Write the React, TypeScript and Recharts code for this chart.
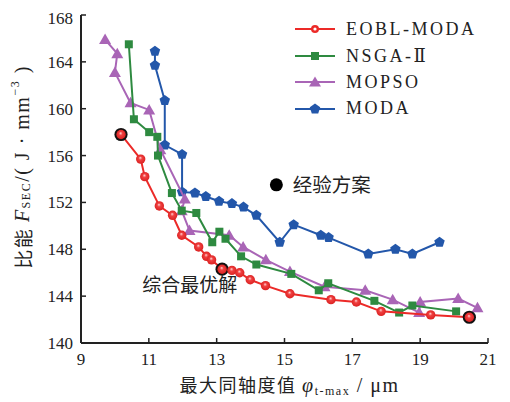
import React from 'react';
import { ScatterChart, Scatter, XAxis, YAxis, Legend, ReferenceDot } from 'recharts';

// [最大同轴度值, 比能]
const eoblModa = [
    [10.18, 157.8], [10.76, 155.7], [10.88, 154.2], [11.31, 151.7], [11.70, 150.9],
    [11.97, 149.2], [12.47, 148.2], [12.70, 147.4], [12.85, 147.1], [13.16, 146.3],
    [13.45, 146.2], [13.68, 146.0], [13.99, 145.4], [14.44, 144.9], [15.16, 144.2],
    [16.37, 143.7], [17.12, 143.5], [17.85, 142.7], [19.31, 142.4], [20.45, 142.2],
];
const bestIdx = [0, 9, 19];

const nsga2 = [
    [10.41, 165.5], [10.56, 159.1], [11.01, 158.0], [11.25, 157.6], [11.27, 156.0],
    [11.68, 152.8], [11.97, 151.3], [12.40, 151.1], [12.87, 148.6], [13.08, 149.5],
    [13.26, 148.9], [13.72, 147.4], [14.17, 146.7], [15.20, 145.9], [16.01, 144.5],
    [16.29, 145.1], [17.65, 143.6], [18.38, 142.6], [18.77, 143.2], [20.06, 142.7],
];

const mopso = [
    [9.71, 165.9], [10.07, 164.7], [10.00, 163.1], [10.46, 160.5], [11.01, 159.9],
    [11.34, 156.5], [12.06, 152.3], [11.97, 151.3], [12.20, 149.6], [13.37, 149.2],
    [13.78, 148.2], [14.45, 147.1], [15.16, 146.1], [16.18, 144.8], [17.38, 144.5],
    [18.19, 143.7], [18.97, 142.6], [19.00, 143.5], [20.12, 143.8], [20.69, 143.0],
];

const moda = [
    [11.18, 164.9], [11.18, 163.7], [11.47, 160.7], [11.47, 156.9], [11.98, 156.1],
    [11.98, 152.9], [12.36, 152.8], [12.68, 152.5], [13.07, 152.1], [13.45, 151.9],
    [13.79, 151.6], [14.17, 150.9], [14.86, 148.6], [15.27, 150.1], [16.07, 149.2],
    [16.30, 149.0], [17.47, 147.6], [18.27, 148.0], [18.77, 147.6], [19.57, 148.6],
];

const expertPlan = { x: 14.76, y: 153.5, text: '经验方案' };
const bestNote = { x: 12.21, y: 144.95, text: '综合最优解' };

const xTicks = [9, 11, 13, 15, 17, 19, 21];
const yTicks = [140, 144, 148, 152, 156, 160, 164, 168];

const RED = '#ec2a28';
const GREEN = '#2e8a40';
const PURPLE = '#a965b6';
const BLUE = '#2357aa';
const AXIS = '#222';
const SERIF = '"Liberation Serif", "DejaVu Serif", serif';
const CJK = '"Noto Sans CJK SC", sans-serif';

const toRows = (pts: number[][], best: number[] = []) =>
    pts.map((p, i) => ({ x: p[0], y: p[1], best: best.includes(i) }));

const Ball = (p: any) => {
    const { cx, cy, payload } = p;
    return <g>
        <defs>
            <radialGradient id="redBall" cx="50%" cy="50%" r="55%" fx="45%" fy="35%">
                <stop offset="0%" stopColor="#ffd6d6" />
                <stop offset="35%" stopColor="#f04040" />
                <stop offset="100%" stopColor="#d81e1e" />
            </radialGradient>
        </defs>
        {payload.best && <circle cx={cx} cy={cy} r={6.6} fill="#111" />}
        <circle cx={cx} cy={cy} r={4.7} fill="url(#redBall)" />
    </g>;
};

const Square = (p: any) => <rect x={p.cx - 4} y={p.cy - 4} width={8} height={8} fill={GREEN} />;

const Tri = (p: any) => <polygon
    points={`${p.cx},${p.cy - 6} ${p.cx - 6},${p.cy + 4.5} ${p.cx + 6},${p.cy + 4.5}`} fill={PURPLE} />;

const pentPoints = (cx: number, cy: number, r: number) =>
    [0, 1, 2, 3, 4].map(k => {
        const a = -Math.PI / 2 + k * 2 * Math.PI / 5;
        return `${cx + r * Math.cos(a)},${cy + r * Math.sin(a)}`;
    }).join(' ');

const Pent = (p: any) => <polygon points={pentPoints(p.cx, p.cy, 5.5)} fill={BLUE} />;

const series = [
    { name: 'EOBL-MODA', color: RED, kind: 'ball' },
    { name: 'NSGA-Ⅱ', color: GREEN, kind: 'square' },
    { name: 'MOPSO', color: PURPLE, kind: 'tri' },
    { name: 'MODA', color: BLUE, kind: 'pent' },
];

const legendMarker = (kind: string) => {
    if (kind === 'ball') return <g><circle cx={20} cy={8} r={4} fill={RED} /><circle cx={20} cy={8} r={1.6} fill="#fff" /></g>;
    if (kind === 'square') return <rect x={16} y={4} width={8} height={8} fill={GREEN} />;
    if (kind === 'tri') return <polygon points="20,2.5 14,12.5 26,12.5" fill={PURPLE} />;
    return <polygon points={pentPoints(20, 8, 5.5)} fill={BLUE} />;
};

const LegendBox = () => <div style={{ fontFamily: SERIF, fontSize: 18, color: '#222' }}>
    {series.map(s => <div key={s.name} style={{ display: 'flex', alignItems: 'center', height: 26.5 }}>
        <svg width={40} height={16}>
            <line x1={0} y1={8} x2={40} y2={8} stroke={s.color} strokeWidth={2} />
            {legendMarker(s.kind)}
        </svg>
        <span style={{ marginLeft: 11, letterSpacing: 2.5 }}>{s.name}</span>
    </div>)}
</div>;

const YTitle = (props: any) => {
    const { viewBox } = props;
    const x = viewBox.x - 9;
    const y = viewBox.y + viewBox.height / 2 - 12;
    return <text x={x} y={y} transform={`rotate(-90, ${x}, ${y})`} textAnchor="middle"
        dominantBaseline="central" fill="#222" fontSize={20} fontFamily={SERIF} letterSpacing={1.5}>
        <tspan fontFamily={CJK} fontSize={19}>比能 </tspan>
        <tspan fontStyle="italic">F</tspan>
        <tspan fontSize={12} dy={4}>SEC</tspan>
        <tspan dy={-4}>/( J · mm</tspan>
        <tspan fontSize={12} dy={-7}>−3</tspan>
        <tspan dy={7}> )</tspan>
    </text>;
};

const XTitle = (props: any) => {
    const { viewBox } = props;
    const x = viewBox.x + viewBox.width / 2 + 5;
    const y = viewBox.y + 49;
    return <text x={x} y={y} textAnchor="middle" fill="#222" fontSize={20} fontFamily={SERIF} letterSpacing={1.5}>
        <tspan fontFamily={CJK} fontSize={18}>最大同轴度值 </tspan>
        <tspan fontStyle="italic">φ</tspan>
        <tspan fontSize={12} dy={3}>t-max</tspan>
        <tspan dy={-3}> / μm</tspan>
    </text>;
};

export default function App() {
    return <ScatterChart width={500} height={392} margin={{ top: 7, right: 20, left: 23, bottom: 0 }}>
        <XAxis type="number" dataKey="x" domain={[9, 21]} ticks={xTicks} height={57}
            axisLine={{ stroke: AXIS, strokeWidth: 2 }} tickLine={{ stroke: AXIS, strokeWidth: 1.5 }}
            tickSize={-5} tickMargin={15} tick={{ fill: '#222', fontSize: 17, fontFamily: SERIF }}
            label={<XTitle />} />
        <YAxis type="number" dataKey="y" domain={[140, 168]} ticks={yTicks} width={50}
            axisLine={{ stroke: AXIS, strokeWidth: 2 }} tickLine={{ stroke: AXIS, strokeWidth: 1.5 }}
            tickSize={-5} tickMargin={13} tick={{ fill: '#222', fontSize: 17, fontFamily: SERIF }}
            label={<YTitle />} />
        <Legend layout="vertical" verticalAlign="middle" align="center" content={<LegendBox />}
            wrapperStyle={{ left: 287, top: 8, width: 210 }} />
        <Scatter name="MODA" data={toRows(moda)} line={{ stroke: BLUE, strokeWidth: 2 }}
            lineJointType="linear" shape={Pent} isAnimationActive={false} />
        <Scatter name="MOPSO" data={toRows(mopso)} line={{ stroke: PURPLE, strokeWidth: 2 }}
            lineJointType="linear" shape={Tri} isAnimationActive={false} />
        <Scatter name="NSGA-Ⅱ" data={toRows(nsga2)} line={{ stroke: GREEN, strokeWidth: 2 }}
            lineJointType="linear" shape={Square} isAnimationActive={false} />
        <Scatter name="EOBL-MODA" data={toRows(eoblModa, bestIdx)} line={{ stroke: RED, strokeWidth: 2 }}
            lineJointType="linear" shape={Ball} isAnimationActive={false} />
        <ReferenceDot x={expertPlan.x} y={expertPlan.y} r={6.5} fill="#000" stroke="none"
            label={{ value: expertPlan.text, position: 'right', offset: 10, fontSize: 19.5, fill: '#222', fontFamily: CJK }} />
        <ReferenceDot x={bestNote.x} y={bestNote.y} r={0} fill="none" stroke="none"
            label={{ value: bestNote.text, position: 'center', fontSize: 19, fill: '#222', fontFamily: CJK }} />
    </ScatterChart>;
}
